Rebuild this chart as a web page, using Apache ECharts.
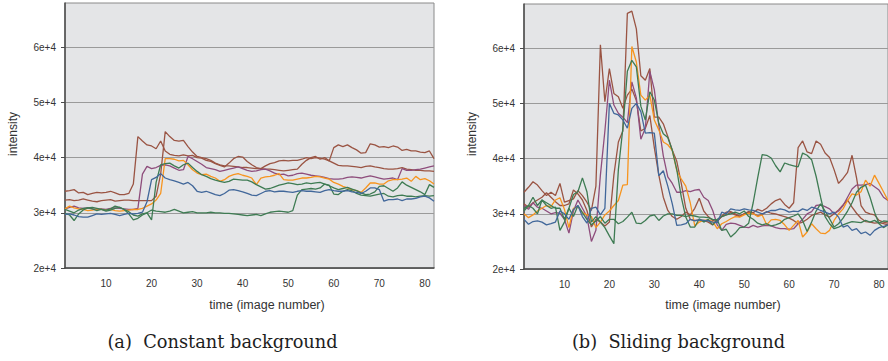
<!DOCTYPE html>
<html>
<head>
<meta charset="utf-8">
<script src="https://cdn.jsdelivr.net/npm/echarts@6/dist/echarts.min.js"></script>
<style>
html,body{margin:0;padding:0;background:#fff;}
#chart{width:888px;height:361px;}
</style>
</head>
<body>
<div id="chart"></div>
<script>
// Values are intensities in thousands (e.g. 33.9 = 3.39e+4), one per image number 1..82
const xTicks = [10, 20, 30, 40, 50, 60, 70, 80];
const yTicks = [20, 30, 40, 50, 60];

// (a) Constant background
const constBrown1 = [33.9,34.0,34.2,33.6,33.7,33.3,33.5,33.7,33.6,33.7, 33.9,33.6,33.3,33.3,33.5,35.2,43.8,43.0,42.3,42.1, 41.6,43.0,41.2,40.6,40.4,40.3,40.5,40.3,40.4,40.0, 39.9,39.5,39.3,38.9,38.6,38.3,39.0,39.8,40.2,40.1, 39.3,38.7,38.2,38.0,38.5,38.9,39.1,39.4,39.5,39.4, 39.5,39.5,39.7,40.0,39.8,40.0,39.9,39.7,39.4,39.0, 38.6,38.5,38.5,38.4,38.3,38.2,38.4,38.5,38.3,38.2, 38.0,37.9,37.9,38.0,38.2,37.9,37.8,37.7,37.7,37.6, 37.6,37.5];
const constBrown2 = [32.3,32.4,32.2,32.3,32.5,32.3,32.1,32.0,32.2,32.3, 32.4,32.1,32.2,32.3,32.3,32.2,32.2,32.2,32.2,32.2, 33.0,37.0,44.7,43.8,43.1,43.0,43.1,42.0,41.0,40.2, 40.0,39.8,39.5,39.0,38.7,38.5,38.5,38.4,38.3,38.2, 38.2,38.1,38.0,38.0,37.9,37.9,37.8,37.7,37.6,37.7, 37.8,37.9,38.8,39.5,40.0,40.2,39.7,40.0,39.4,41.8, 42.3,42.0,42.3,41.8,41.4,40.8,40.9,42.5,42.3,41.9, 42.0,41.8,42.1,41.9,41.3,41.5,41.2,41.2,41.0,40.9, 41.2,39.8];
const constPurple = [30.7,31.0,31.2,30.9,30.8,30.9,30.7,30.6,30.7,30.6, 30.8,30.9,30.8,30.7,30.6,30.6,30.8,37.0,38.4,38.0, 38.2,38.6,38.7,38.5,38.1,37.7,37.8,40.2,39.8,39.3, 38.8,38.2,38.0,37.8,37.5,37.7,37.9,38.1,38.3,38.0, 37.7,37.5,37.6,37.8,37.9,37.6,37.2,36.9,37.0,36.7, 36.8,37.1,37.2,37.0,36.8,36.7,36.6,36.4,36.2,36.1, 36.1,36.2,36.4,36.5,36.4,36.3,36.5,36.7,36.5,36.3, 36.1,36.2,36.3,36.0,38.0,37.7,37.7,37.8,37.9,38.1, 38.3,38.5];
const constOrange = [30.7,31.2,30.9,30.7,30.6,30.4,30.5,30.7,30.6,30.5, 30.6,30.4,30.3,30.4,30.5,30.6,30.6,30.8,31.2,31.6, 32.3,33.5,39.8,39.8,39.7,39.4,39.5,38.7,37.8,37.2, 36.9,37.0,36.6,36.3,35.7,36.0,36.6,36.9,37.1,36.8, 36.6,36.3,35.1,36.3,36.5,36.6,36.8,37.1,36.0,35.9, 35.9,36.1,36.3,36.3,36.4,36.6,36.5,36.3,36.1,35.5, 35.2,34.8,34.5,34.2,34.0,33.7,34.5,35.4,35.4,35.2, 35.2,35.8,36.0,36.0,36.1,36.3,35.7,36.6,36.0,36.2, 35.8,35.2];
const constGreen1 = [30.6,30.3,30.0,30.5,30.8,30.9,30.7,30.4,30.6,30.3, 30.5,30.8,31.0,30.6,30.2,29.6,29.4,29.8,30.0,28.7, 35.5,38.7,38.9,39.0,38.5,38.1,38.7,39.0,38.2,37.5, 36.9,36.6,36.2,35.9,35.7,35.5,35.7,36.1,36.0,35.9, 35.9,35.6,35.1,34.7,34.3,34.4,34.7,35.0,35.2,35.4, 35.3,35.1,35.2,35.4,35.3,35.4,35.5,35.2,34.9,34.5, 34.2,34.4,34.6,34.3,34.0,33.6,33.3,33.4,33.8,34.8, 34.9,34.4,33.9,34.5,35.6,35.0,34.6,34.2,33.8,33.3, 35.1,34.6];
const constGreen2 = [29.9,29.6,28.6,29.8,30.5,30.9,31.0,30.8,30.6,30.5, 30.7,31.2,31.0,30.6,29.8,28.7,29.0,29.6,30.0,30.5, 30.3,30.2,30.1,30.3,30.6,30.3,30.0,30.1,30.2,30.0, 30.0,30.0,30.1,30.0,30.0,29.9,29.9,29.8,29.7,29.6, 29.5,29.6,29.7,29.5,29.8,30.1,30.2,30.3,30.2,30.1, 30.4,33.2,34.2,34.3,34.4,34.3,34.5,35.2,35.0,33.4, 33.3,33.9,34.2,34.0,33.5,33.2,33.1,33.0,33.2,33.4, 33.5,33.0,32.9,33.1,33.2,33.0,33.0,32.9,33.0,33.1, 33.0,33.1];
const constBlue = [29.7,29.8,29.6,29.3,29.2,29.2,29.5,29.8,29.7,29.8, 29.9,29.7,29.5,29.7,29.9,29.8,29.9,30.1,32.0,36.0, 36.4,37.1,36.3,36.0,35.8,35.5,35.2,35.5,34.9,33.9, 33.7,33.9,33.6,33.3,33.1,33.5,34.1,34.2,34.0,33.8, 33.5,33.2,33.1,33.5,33.9,34.0,33.8,33.9,33.9,33.8, 33.7,33.9,34.0,33.9,33.9,33.8,33.7,34.0,34.2,34.0, 33.9,33.9,34.0,33.8,33.7,33.5,33.9,34.5,34.5,34.2, 32.1,32.4,32.4,32.5,32.2,32.5,32.5,32.6,32.9,33.0, 32.7,32.1];

// (b) Sliding background
const slideBrown1 = [33.9,34.8,35.8,35.2,34.2,33.3,33.9,33.3,35.5,32.1, 32.4,32.7,34.2,33.3,32.1,30.6,35.0,60.6,50.3,56.3, 51.8,51.2,49.1,51.5,52.6,50.5,45.0,45.5,47.8,42.0, 37.0,33.0,30.6,29.5,29.0,29.5,30.3,29.8,31.0,32.8, 30.5,29.5,28.8,28.6,29.6,30.3,30.4,30.0,29.6,30.0, 30.4,30.2,30.8,30.5,31.0,31.8,32.4,32.7,31.7,31.0, 32.0,42.0,43.2,41.2,40.9,43.2,42.6,41.0,40.2,38.0, 35.5,36.4,37.5,40.6,36.5,31.5,30.3,30.0,29.8,28.8, 28.5,28.3];
const slideBrown2 = [31.8,31.2,32.0,32.5,33.0,33.8,33.0,32.2,31.5,31.5, 31.8,34.3,33.6,32.5,30.6,27.6,29.0,28.5,27.8,28.5, 37.0,43.0,45.0,66.3,66.7,63.5,55.0,54.2,56.3,47.5, 47.5,46.3,44.0,41.5,39.5,35.5,31.0,29.0,28.8,28.9, 28.8,28.5,28.0,28.7,29.5,29.8,30.2,29.8,29.5,30.0, 30.3,30.1,29.6,29.9,30.4,30.1,30.0,29.7,29.5,29.2, 28.8,28.2,28.5,29.0,29.7,30.0,30.3,29.8,29.4,30.0, 30.7,31.6,32.5,31.2,30.1,29.2,28.6,28.5,28.3,28.4, 28.2,28.0];
const slidePurple = [31.5,30.8,32.0,31.2,31.0,30.5,30.0,30.2,30.1,29.0, 26.5,30.5,32.5,31.0,29.5,25.0,27.0,37.0,45.0,54.2, 49.7,48.2,47.5,46.5,53.9,51.0,43.5,45.5,55.8,52.5, 46.0,40.5,36.7,35.5,33.9,33.9,34.2,34.0,34.3,34.4, 33.0,32.4,30.6,28.0,27.0,28.1,28.3,28.2,27.9,27.6, 27.5,27.9,27.6,27.8,27.9,27.8,27.5,27.3,27.3,27.2, 27.3,28.2,29.0,30.0,30.4,31.5,31.6,31.3,30.9,30.0, 30.5,31.5,33.0,34.5,35.2,35.2,35.3,35.5,34.9,34.3, 33.0,32.4];
const slideOrange = [30.0,29.3,29.8,30.5,31.0,31.5,31.3,32.5,32.9,30.8, 27.5,31.0,31.3,30.2,29.8,29.5,27.5,28.5,29.8,30.5, 31.5,32.4,35.2,35.3,60.3,57.5,51.5,50.6,51.5,47.0, 45.2,43.0,42.5,41.5,37.8,36.3,35.0,32.0,27.8,28.5, 28.8,28.9,28.6,27.3,28.2,28.6,29.1,29.5,29.4,29.8, 30.1,30.0,29.5,29.8,28.0,28.9,29.0,28.8,28.0,27.0, 27.9,28.8,25.8,26.7,28.2,27.3,26.5,26.4,27.0,28.8, 30.0,30.9,32.4,33.6,33.4,34.0,36.1,35.0,37.0,35.5, 34.0,32.4];
const slideGreen1 = [30.5,31.5,33.0,31.5,32.5,32.0,31.5,31.0,31.0,29.0, 31.0,33.5,34.0,36.5,34.0,28.5,29.5,28.5,27.5,26.0, 24.6,38.0,45.5,55.8,57.8,56.6,49.5,47.0,52.1,50.6, 46.4,44.5,43.8,41.5,38.0,33.0,29.4,27.6,27.6,29.1, 28.5,29.0,28.0,29.0,29.5,29.8,30.0,30.3,30.0,30.5, 29.5,29.0,28.3,28.0,28.2,27.8,28.0,28.3,29.0,29.3, 29.6,30.0,28.8,26.8,28.5,30.5,31.8,30.5,29.1,27.6, 28.2,29.2,30.5,32.0,33.9,34.8,35.2,33.0,30.3,28.2, 27.5,28.0];
const slideGreen2 = [30.9,31.5,31.0,30.0,32.5,31.5,31.0,31.2,27.0,28.5, 31.0,29.5,31.5,30.2,29.0,28.0,28.7,29.5,28.3,29.0, 29.0,28.2,28.6,29.4,30.3,28.3,28.2,28.8,29.6,29.8, 28.8,29.6,30.0,30.0,29.7,29.7,29.5,29.7,29.6,29.4, 29.4,29.3,29.0,28.9,27.0,27.2,25.8,26.5,27.5,27.6, 28.3,32.0,36.5,40.7,40.6,40.1,38.7,37.6,39.2,38.9, 38.7,38.5,41.0,40.6,39.8,36.8,33.0,29.5,28.2,27.3, 27.6,28.0,28.3,28.6,28.5,28.4,28.8,28.5,28.8,28.3, 28.7,28.6];
const slideBlue = [29.0,28.1,28.6,28.7,28.5,28.0,28.2,28.5,30.5,30.0, 29.0,30.8,31.5,29.5,28.3,31.0,31.2,29.8,31.0,50.0, 48.2,47.9,47.0,45.5,49.1,50.0,48.5,44.6,44.7,44.6, 36.9,37.8,35.0,31.8,27.9,28.0,28.2,29.0,28.7,28.9, 28.8,28.7,28.5,28.4,30.3,30.0,30.9,30.7,30.6,30.9, 30.7,30.6,30.3,30.0,30.3,30.6,30.6,30.9,30.7,30.3, 30.5,30.4,30.9,30.6,31.2,31.0,30.6,30.3,30.0,30.3, 29.4,27.6,27.9,27.0,27.3,26.4,26.7,26.1,27.0,27.5, 27.7,28.0];

const COLORS = {brown:'#9a5443', purple:'#8e4d7c', orange:'#f7941e', green:'#3e7b53', blue:'#41679a'};

const panels = [
  {grid:0, lines:[['brown',constBrown1],['brown',constBrown2],['purple',constPurple],['orange',constOrange],['green',constGreen1],['green',constGreen2],['blue',constBlue]]},
  {grid:1, lines:[['brown',slideBrown1],['brown',slideBrown2],['purple',slidePurple],['orange',slideOrange],['green',slideGreen1],['green',slideGreen2],['blue',slideBlue]]}
];

const series = [];
panels.forEach(p => {
  p.lines.forEach(([c, vals], k) => {
    series.push({
      type:'line', xAxisIndex:p.grid, yAxisIndex:p.grid, name:c+k,
      data: vals.map((v, i) => [i + 1, v]),
      showSymbol:false, symbol:'none', animation:false,
      lineStyle:{color:COLORS[c], width:1.3},
      itemStyle:{color:COLORS[c]}
    });
  });
});

const gridBase = {show:true, backgroundColor:'#e4e5e7', borderColor:'#8a8a8a', borderWidth:1, containLabel:false};
const axisLine = {show:true, onZero:false, lineStyle:{color:'#4a4a4a', width:1.5}};
const mkX = g => ({
  gridIndex:g, type:'value', min:1, max:82,
  axisLine, axisTick:{show:false},
  axisLabel:{customValues:xTicks, fontSize:10, color:'#333', margin:10, fontFamily:'Liberation Sans, Arial, sans-serif'},
  splitLine:{show:false}
});
const mkY = g => ({
  gridIndex:g, type:'value', min:20, max:68, interval:10,
  axisLine, axisTick:{show:true, length:4, customValues:yTicks, lineStyle:{color:'#4a4a4a', width:1}},
  axisLabel:{customValues:yTicks, fontSize:10, color:'#333', margin:9, fontFamily:'Liberation Sans, Arial, sans-serif',
    formatter: v => (v/10) + 'e+4'},
  splitLine:{show:true, lineStyle:{color:'#9a9a9a', width:1}}
});

const sans = 'Liberation Sans, Arial, sans-serif';
const serif = 'DejaVu Serif, serif';
const txt = (x, y, text, size, font, rot, fill) => ({
  type:'text', x, y, rotation:rot||0,
  style:{text, fontSize:size, fontFamily:font, fill:fill||'#333', textAlign:'center', textVerticalAlign:'middle'}
});

const chart = echarts.init(document.getElementById('chart'), null, {renderer:'svg'});
chart.setOption({
  animation:false,
  backgroundColor:'#ffffff',
  grid:[
    Object.assign({left:65, top:3, width:369, height:265}, gridBase),
    Object.assign({left:524, top:4, width:364, height:265}, gridBase)
  ],
  xAxis:[mkX(0), mkX(1)],
  yAxis:[mkY(0), mkY(1)],
  series,
  graphic:[
    txt(12.5, 134, 'intensity', 12, sans, Math.PI/2),
    txt(471.5, 134, 'intensity', 12, sans, Math.PI/2),
    txt(267, 305, 'time (image number)', 12.5, sans),
    txt(723, 305, 'time (image number)', 12.5, sans),
    txt(222.5, 341, '(a)  Constant background', 17.8, serif, 0, '#1e1e1e'),
    txt(678.5, 341, '(b)  Sliding background', 17.8, serif, 0, '#1e1e1e')
  ]
});
</script>
</body>
</html>
